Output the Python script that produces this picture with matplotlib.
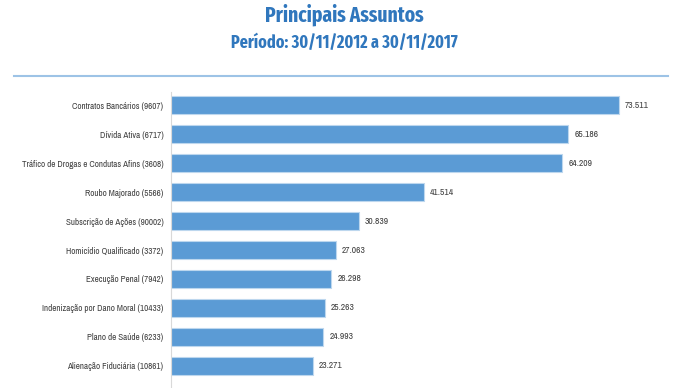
import matplotlib.pyplot as plt

# Dados
assuntos = [
    'Contratos Bancários (9607)',
    'Dívida Ativa (6717)',
    'Tráfico de Drogas e Condutas Afins (3608)',
    'Roubo Majorado (5566)',
    'Subscrição de Ações (90002)',
    'Homicídio Qualificado (3372)',
    'Execução Penal (7942)',
    'Indenização por Dano Moral (10433)',
    'Plano de Saúde (6233)',
    'Alienação Fiduciária (10861)',
]
quantidades = [73511, 65186, 64209, 41514, 30839, 27063, 26298, 25263, 24993, 23271]

titulo = 'Principais Assuntos'
subtitulo = 'Período: 30/11/2012 a 30/11/2017'

fonte_titulo = ['Fira Sans Extra Condensed', 'Fira Sans Condensed', 'Liberation Sans']
fonte = ['Archivo Narrow', 'Liberation Sans']

azul = '#5b9bd5'
azul_titulo = '#3077bd'

W, H = 680, 388
fig = plt.figure(figsize=(W / 100, H / 100), dpi=100)

fig.text(344 / W, 1 - 15 / H, titulo, ha='center', va='center', fontsize=15.3,
         fontweight='bold', color=azul_titulo, family=fonte_titulo)
fig.text(344 / W, 1 - 43 / H, subtitulo, ha='center', va='center', fontsize=12.6,
         fontweight='bold', color=azul_titulo, family=fonte_titulo)
fig.add_artist(plt.Line2D([14 / W, 668 / W], [1 - 76 / H, 1 - 76 / H],
                          color='#9dc3e6', lw=1.5))

ax = fig.add_axes([171 / W, 0, 1 - 171 / W, 1 - 92 / H])
pos = list(range(len(assuntos)))
ax.barh(pos, quantidades, height=0.62, color=azul, edgecolor='#bdd7ee', linewidth=0.8)

for p, v in zip(pos, quantidades):
    rotulo = f'{v:,}'.replace(',', '.')
    ax.text(v + 1000, p, rotulo, va='center', ha='left', fontsize=6.8,
            color='#404040', family=fonte)

ax.set_ylim(9.76, -0.45)
ax.set_xlim(0, (W - 171) / 6.094 * 1000)
ax.set_yticks(pos)
ax.set_yticklabels(assuntos, fontsize=6.5, color='#404040', family=fonte)
ax.tick_params(axis='y', length=0, pad=5.5)
ax.set_xticks([])
for s in ['top', 'right', 'bottom']:
    ax.spines[s].set_visible(False)
ax.spines['left'].set_color('#d9d9d9')

fig.savefig('out.png', dpi=100)
